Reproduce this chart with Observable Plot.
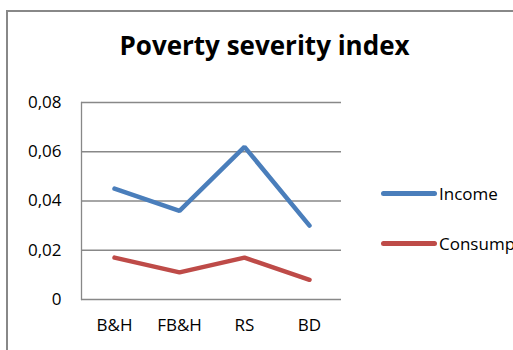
<!DOCTYPE html>
<html>
<head>
<meta charset="utf-8">
<script src="https://cdn.jsdelivr.net/npm/d3@7"></script>
<script src="https://cdn.jsdelivr.net/npm/@observablehq/plot@0.6"></script>
<style>
  html, body { margin: 0; padding: 0; background: #fff; }
  #chart { position: relative; width: 513px; height: 350px; overflow: hidden; font-family: "Open Sans", sans-serif; }
  #frame { position: absolute; left: 6px; top: 10px; width: 600px; height: 400px;
           border-left: 2px solid #888; border-top: 2px solid #888; box-sizing: border-box; }
  #title { position: absolute; left: 0; width: 529px; top: 27px; text-align: center;
           font-weight: bold; font-size: 26px; color: #000; }
  #legend { position: absolute; left: 381px; top: 180px; font-size: 17px; color: #000; }
  .item { display: flex; align-items: center; height: 26px; margin-bottom: 24px; white-space: nowrap; }
  .swatch { width: 56px; height: 5px; border-radius: 3px; margin-right: 2px; }
  #plot { position: absolute; left: 0; top: 0; }
</style>
</head>
<body>
<div id="chart">
  <div id="frame"></div>
  <div id="plot"></div>
  <div id="title">Poverty severity index</div>
  <div id="legend"></div>
</div>
<script>
// Regions and index values
const regions = ["B&H", "FB&H", "RS", "BD"];
const income = [0.045, 0.036, 0.062, 0.030];
const consumption = [0.017, 0.011, 0.017, 0.008];
const seriesNames = ["Income", "Consumption"];
const seriesColors = ["#4A7EBB", "#BE4B48"];
const yTicks = [0, 0.02, 0.04, 0.06, 0.08];

const rows = [
  ...regions.map((r, i) => ({region: r, value: income[i], series: seriesNames[0]})),
  ...regions.map((r, i) => ({region: r, value: consumption[i], series: seriesNames[1]}))
];

const fmt = d => d === 0 ? "0" : d.toFixed(2).replace(".", ",");

const plot = Plot.plot({
  width: 513,
  height: 350,
  marginLeft: 81,
  marginRight: 172,
  marginTop: 102,
  marginBottom: 51,
  style: {fontFamily: "Open Sans, sans-serif", fontSize: "17px", color: "#000", background: "transparent"},
  x: {type: "point", domain: regions, padding: 0.5, label: null},
  y: {domain: [0, 0.08], label: null},
  color: {domain: seriesNames, range: seriesColors},
  marks: [
    Plot.gridY(yTicks, {stroke: "#888", strokeOpacity: 1, strokeWidth: 1.3}),
    Plot.frame({anchor: "left", stroke: "#888", strokeWidth: 1.3}),
    Plot.line(rows, {x: "region", y: "value", z: "series", stroke: "series",
                     strokeWidth: 4.5, strokeLinecap: "round", strokeLinejoin: "miter"}),
    Plot.axisX({tickSize: 0, tickPadding: 19}),
    Plot.axisY({ticks: yTicks, tickFormat: fmt, tickSize: 0, tickPadding: 20})
  ]
});
document.getElementById("plot").appendChild(plot);

const legend = document.getElementById("legend");
seriesNames.forEach((name, i) => {
  const item = document.createElement("div");
  item.className = "item";
  const sw = document.createElement("div");
  sw.className = "swatch";
  sw.style.background = seriesColors[i];
  const label = document.createElement("span");
  label.textContent = name;
  item.appendChild(sw);
  item.appendChild(label);
  legend.appendChild(item);
});
</script>
</body>
</html>
